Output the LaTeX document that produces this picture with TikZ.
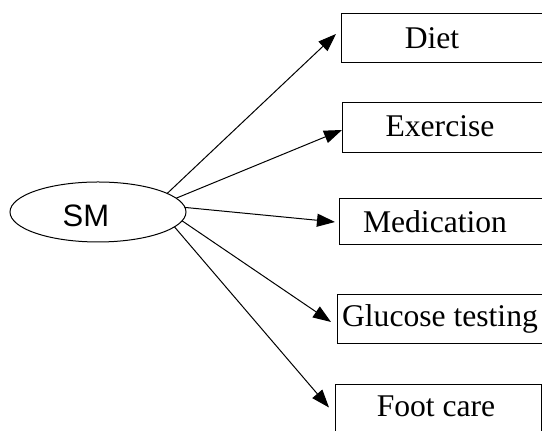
\documentclass[tikz,border=0pt]{standalone}
\usepackage{fontspec}
\setmainfont{Liberation Serif}
\newfontfamily\labelsans{Liberation Sans}
\usetikzlibrary{arrows.meta,shapes.geometric}
\begin{document}
\begin{tikzpicture}[x=0.5pt,y=-0.5pt,
  every node/.style={inner sep=0pt, outer sep=0pt},
  itembox/.style={draw, line width=0.5pt, rectangle, anchor=north west},
  itemtext/.style={anchor=base, font=\fontsize{15.8}{18}\selectfont},
  link/.style={line width=0.5pt, -{Triangle[length=9pt,width=6.5pt]}}]
\useasboundingbox (0,0) rectangle (542,431);
\clip (0,0) rectangle (542,431);

% central ellipse
\node[ellipse, draw, line width=0.5pt, minimum width=88pt, minimum height=30pt] (sm) at (98,212) {};
\node[anchor=base, font=\labelsans\fontsize{15.5}{18}\selectfont] (smtext) at (86,227) {SM};

% boxes on the right
\node[itembox, minimum width=105pt, minimum height=24.5pt] (diet) at (341,14) {};
\node[itembox, minimum width=104pt, minimum height=25pt] (exercise) at (342,103) {};
\node[itembox, minimum width=106pt, minimum height=23pt] (medication) at (339,199) {};
\node[itembox, minimum width=107pt, minimum height=24.5pt] (glucose) at (337,295) {};
\node[itembox, minimum width=103pt, minimum height=25pt] (foot) at (335,385) {};

\node[itemtext] (diett) at (432,49) {Diet};
\node[itemtext] (exerciset) at (440,137) {Exercise};
\node[itemtext] (medicationt) at (435,233) {Medication};
\node[itemtext] (glucoset) at (440,327) {Glucose testing};
\node[itemtext] (foott) at (436,417) {Foot care};

% connectors
\draw[link] (sm.15.6) -- ([shift={(-5,-4.5)}]diet.west);
\draw[link] (sm.10.75) -- ([shift={(0,2)}]exercise.west);
\draw[link] (sm.3.3) -- ([shift={(-4,0)}]medication.west);
\draw[link] (sm.-6.6) -- ([shift={(-6,2.5)}]glucose.west);
\draw[link] (sm.-11.7) -- ([shift={(-6,-2.5)}]foot.west);
\end{tikzpicture}
\end{document}
